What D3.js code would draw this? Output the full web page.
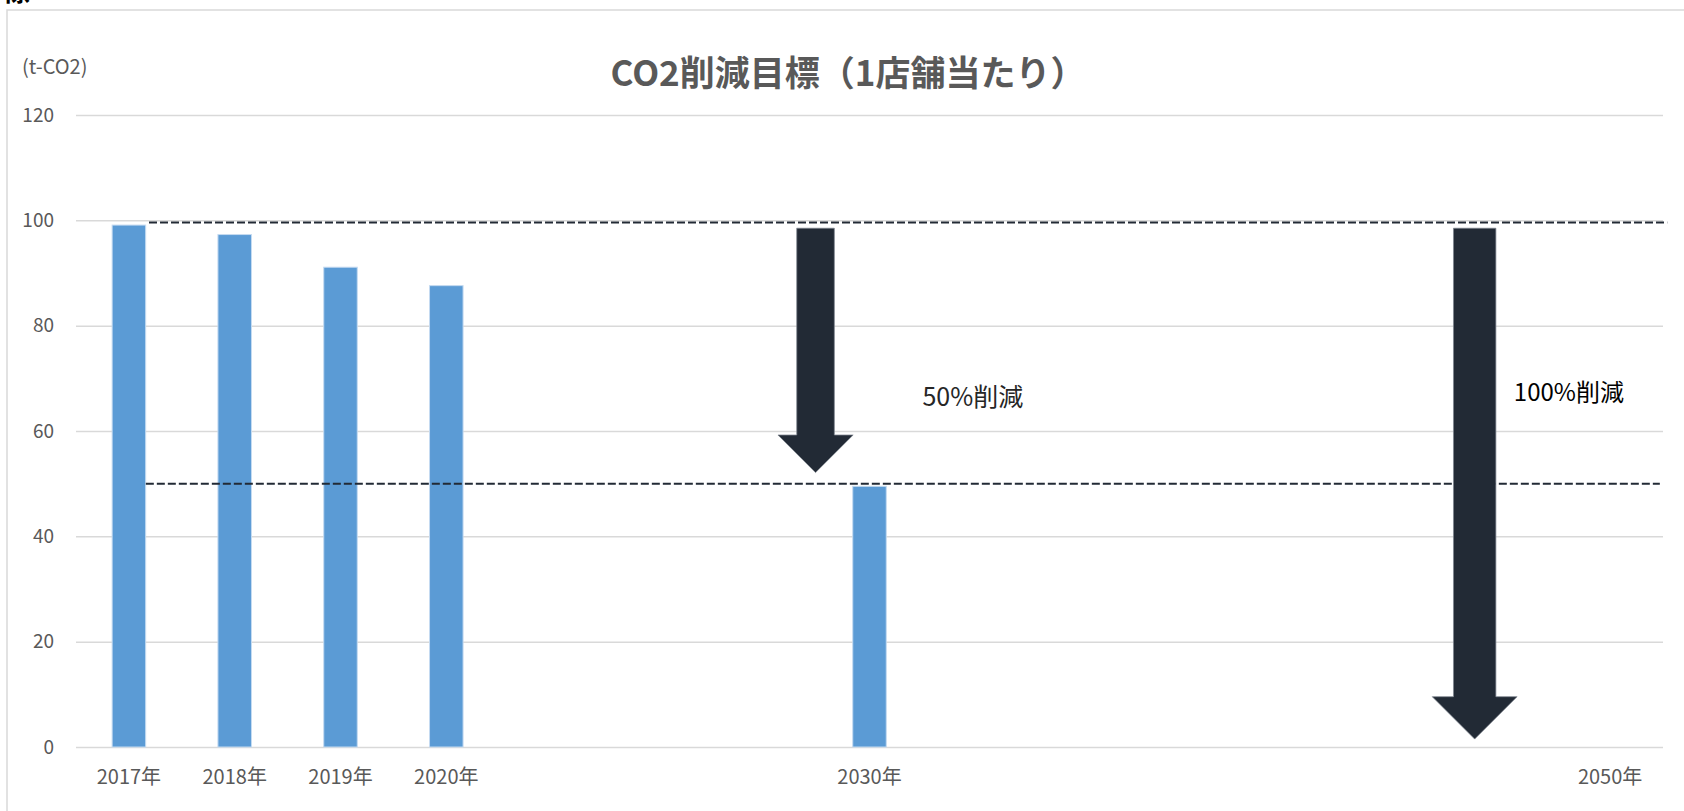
<!DOCTYPE html>
<html><head><meta charset="utf-8">
<script src="https://cdn.jsdelivr.net/npm/d3@7"></script>
<style>
html,body{margin:0;padding:0;background:#fff;}
svg{display:block;font-family:"Noto Sans CJK JP","Noto Sans",sans-serif;}
</style></head>
<body>
<script>
// ---- data ----
const categories = ["2017年","2018年","2019年","2020年","","","","2030年","","","","","","","2050年"];
const values = [99.1, 97.3, 91.1, 87.6, null, null, null, 49.5, null, null, null, null, null, null, null];
const yTicks = [0, 20, 40, 60, 80, 100, 120];
const title = "CO2削減目標（1店舗当たり）";
const unitLabel = "(t-CO2)";
// reference (dashed) lines: value, from / to in category-index units
const refValues = [99.6, 50];
const refFrom = [0.19, 0.16];
const refTo = [14.54, 14.47];
// arrows: category-index position, start value, tip value
const arrowAt = [6.49, 12.72];
const arrowFrom = [98.5, 98.5];
const arrowTo = [52.1, 1.5];
// annotation texts
const noteTexts = ["50%削減", "100%削減"];
const noteAt = [7.5, 13.09];
const noteValue = [66.8, 67.6];

// ---- layout ----
const W = 1684, H = 811;
const plot = {left: 76, right: 1663, top: 115, bottom: 747};

const svg = d3.select("body").append("svg").attr("width", W).attr("height", H);

// cut-off heading glyph at top and chart frame
svg.append("text").attr("x", 2).attr("y", 1).attr("font-size", 28).attr("font-weight", "bold")
  .attr("fill", "#000").text("標");
svg.append("rect").attr("x", 7).attr("y", 10).attr("width", W + 20).attr("height", H + 20)
  .attr("fill", "#fff").attr("stroke", "#d9d9d9").attr("stroke-width", 1.5);

const idx = d3.range(categories.length);
const x = d3.scaleBand().domain(idx).range([plot.left, plot.right])
  .paddingInner(0.683).paddingOuter(0.3415);
const xc = d3.scaleLinear().domain([0, categories.length - 1])
  .range([x(0) + x.bandwidth() / 2, x(categories.length - 1) + x.bandwidth() / 2]);
const y = d3.scaleLinear().domain([0, 120]).range([plot.bottom, plot.top]);

// gridlines
const yAxis = d3.axisLeft(y).tickValues(yTicks).tickSize(-(plot.right - plot.left)).tickPadding(22);
const gy = svg.append("g").attr("transform", `translate(${plot.left},0)`).call(yAxis);
gy.select(".domain").remove();
gy.selectAll(".tick line").attr("stroke", "#d9d9d9").attr("stroke-width", 1.5);
gy.selectAll(".tick text").attr("fill", "#595959").attr("font-size", 19)
  .attr("font-family", "'Noto Sans CJK JP','Noto Sans',sans-serif");

// x axis labels
const xAxis = d3.axisBottom(x).tickSize(0).tickPadding(23).tickFormat(i => categories[i]);
const gx = svg.append("g").attr("transform", `translate(0,${plot.bottom})`).call(xAxis);
gx.select(".domain").remove();
gx.selectAll(".tick text").attr("fill", "#595959").attr("font-size", 20)
  .attr("font-family", "'Noto Sans CJK JP','Noto Sans',sans-serif");

// title & unit
svg.append("text").attr("x", 848).attr("y", 70).attr("text-anchor", "middle")
  .attr("dominant-baseline", "central").attr("font-size", 35).attr("font-weight", "bold")
  .attr("fill", "#595959").text(title);
svg.append("text").attr("x", 22).attr("y", 65).attr("dominant-baseline", "central")
  .attr("font-size", 20).attr("fill", "#595959").text(unitLabel);

// bars
svg.append("g").selectAll("rect")
  .data(idx.filter(i => values[i] != null))
  .join("rect")
  .attr("x", i => x(i)).attr("width", x.bandwidth())
  .attr("y", i => y(values[i])).attr("height", i => y(0) - y(values[i]))
  .attr("fill", "#5b9bd5").attr("stroke", "#c5dbf1").attr("stroke-width", 1);

// dashed reference lines
svg.append("g").selectAll("line").data(refValues).join("line")
  .attr("x1", (d, i) => xc(refFrom[i])).attr("x2", (d, i) => xc(refTo[i]))
  .attr("y1", d => y(d)).attr("y2", d => y(d))
  .attr("stroke", "#222a35").attr("stroke-width", 2).attr("stroke-dasharray", "8,3");

// arrows
const shaftW = [37.6, 42.4];
svg.append("g").selectAll("path").data(arrowAt).join("path")
  .attr("d", (d, i) => {
    const cx = xc(d), top = y(arrowFrom[i]), tip = y(arrowTo[i]);
    const sw = shaftW[i] / 2, hw = shaftW[i];
    const headTop = tip - hw;
    return `M${cx - sw},${top}L${cx + sw},${top}L${cx + sw},${headTop}L${cx + hw},${headTop}` +
      `L${cx},${tip}L${cx - hw},${headTop}L${cx - sw},${headTop}Z`;
  })
  .attr("fill", "#222a35").attr("stroke", "#7d848e").attr("stroke-width", 0.75);

// annotations
const noteSize = [25, 24];
svg.append("g").selectAll("text").data(noteTexts).join("text")
  .attr("x", (d, i) => xc(noteAt[i])).attr("y", (d, i) => y(noteValue[i]))
  .attr("dominant-baseline", "central").attr("font-size", (d, i) => noteSize[i])
  .attr("fill", (d, i) => i === 0 ? "#262626" : "#000")
  .text(d => d);
</script>
</body></html>
